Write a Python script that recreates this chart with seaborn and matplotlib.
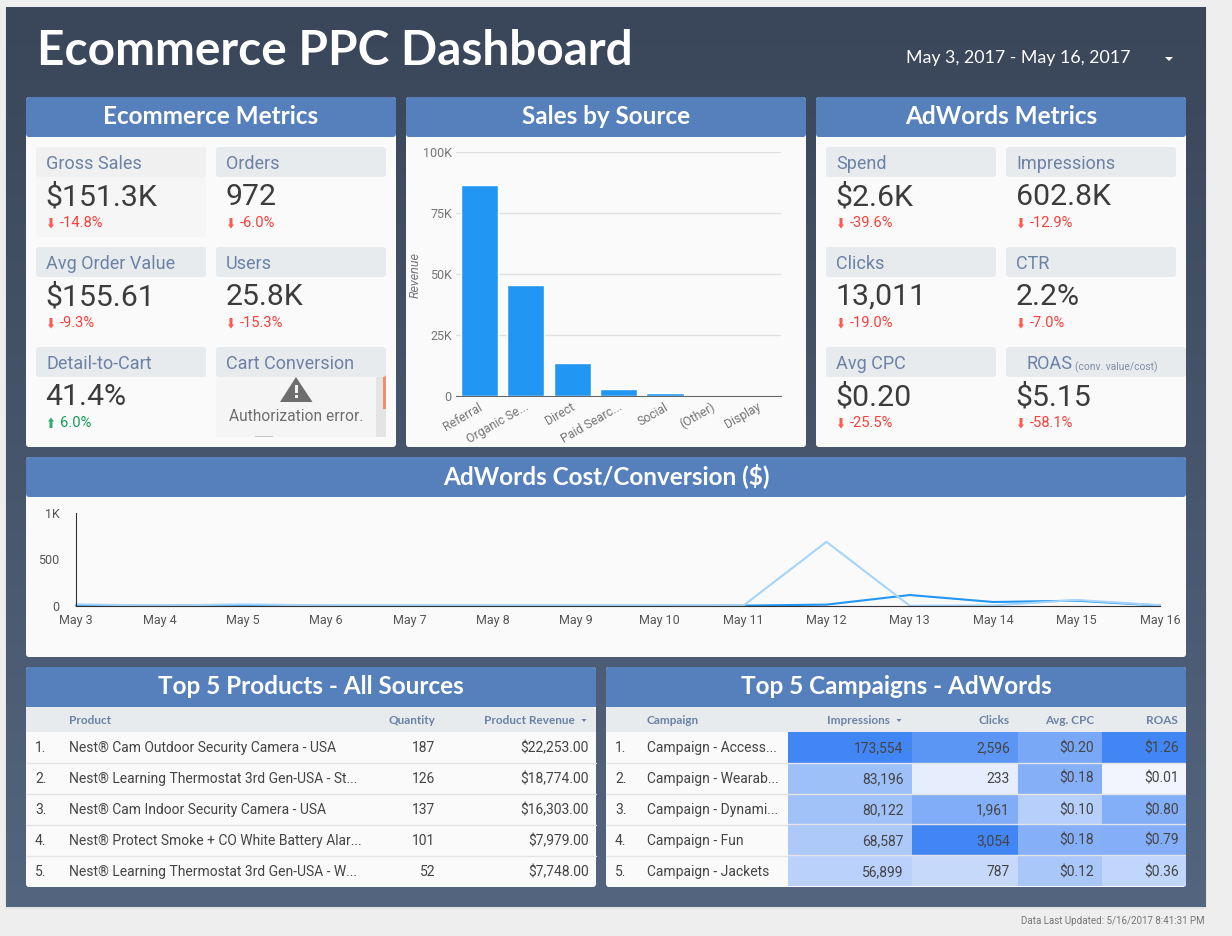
import matplotlib
matplotlib.use("Agg")
import matplotlib.pyplot as plt
from matplotlib.colors import LinearSegmentedColormap
from matplotlib.patches import FancyBboxPatch, Polygon, Rectangle
from matplotlib.transforms import ScaledTranslation
import numpy as np
import pandas as pd
import seaborn as sns

# ---------- data ----------
ecom_labels = ["Gross Sales", "Orders", "Avg Order Value", "Users", "Detail-to-Cart", "Cart Conversion"]
ecom_values = ["$151.3K", "972", "$155.61", "25.8K", "41.4%", None]
ecom_deltas = ["-14.8%", "-6.0%", "-9.3%", "-15.3%", "6.0%", None]

ads_labels = ["Spend", "Impressions", "Clicks", "CTR", "Avg CPC", "ROAS"]
ads_values = ["$2.6K", "602.8K", "13,011", "2.2%", "$0.20", "$5.15"]
ads_deltas = ["-39.6%", "-12.9%", "-19.0%", "-7.0%", "-25.5%", "-58.1%"]

source_names = ["Referral", "Organic Se...", "Direct", "Paid Searc...", "Social", "(Other)", "Display"]
source_revenue = [86800, 45600, 13600, 2800, 1300, 100, 20]
revenue_ticks = [0, 25000, 50000, 75000, 100000]
revenue_tick_labels = ["0", "25K", "50K", "75K", "100K"]

days = ["May 3", "May 4", "May 5", "May 6", "May 7", "May 8", "May 9",
        "May 10", "May 11", "May 12", "May 13", "May 14", "May 15", "May 16"]
cost_current = [6, 3, 8, 3, 3, 3, 3, 3, 4, 15, 118, 43, 57, 5]
cost_previous = [18, 4, 18, 5, 5, 5, 5, 5, 2, 690, 2, 6, 65, 8]

products = ["Nest® Cam Outdoor Security Camera - USA",
            "Nest® Learning Thermostat 3rd Gen-USA - St...",
            "Nest® Cam Indoor Security Camera - USA",
            "Nest® Protect Smoke + CO White Battery Alar...",
            "Nest® Learning Thermostat 3rd Gen-USA - W..."]
product_qty = ["187", "126", "137", "101", "52"]
product_rev = ["$22,253.00", "$18,774.00", "$16,303.00", "$7,979.00", "$7,748.00"]

campaigns = ["Campaign - Access...", "Campaign - Wearab...", "Campaign - Dynami...",
             "Campaign - Fun", "Campaign - Jackets"]
impressions = [173554, 83196, 80122, 68587, 56899]
clicks = [2596, 233, 1961, 3054, 787]
avg_cpc = [0.20, 0.18, 0.10, 0.18, 0.12]
roas = [1.26, 0.01, 0.80, 0.79, 0.36]

# ---------- style ----------
sns.set_theme(style="white")
plt.rcParams["font.family"] = ["Roboto", "DejaVu Sans"]

W, H = 1232, 936
HEADER_BLUE = "#5580BB"
CARD = "#FAFAFA"
CHIP = "#E8EBEE"
CHIP_TEXT = "#6B82A5"
DARK = "#3C3C3C"
GREY = "#6E6E6E"
RED = "#F7403A"
GREEN = "#0F9D58"
BAR_BLUE = "#2196F3"
LIGHT_BLUE = "#A6D4FA"
RULE = "#E2E4E7"

fig = plt.figure(figsize=(W / 100, H / 100), dpi=100, facecolor="#EEEEEE")


def px_axes(x0, y0, x1, y1, zorder=1):
    """axes placed by pixel box, y counted from the top"""
    return fig.add_axes([x0 / W, 1 - y1 / H, (x1 - x0) / W, (y1 - y0) / H], zorder=zorder)


def overlay(zorder):
    ax = px_axes(0, 0, W, H, zorder=zorder)
    ax.set_xlim(0, W)
    ax.set_ylim(H, 0)
    ax.axis("off")
    ax.patch.set_alpha(0)
    return ax


base = overlay(0)
top = overlay(5)


def rbox(ax, x0, y0, x1, y1, color, r=3, z=2):
    ax.add_patch(FancyBboxPatch((x0 + r, y0 + r), x1 - x0 - 2 * r, y1 - y0 - 2 * r,
                                boxstyle=f"round,pad={r},rounding_size={r}",
                                fc=color, ec="none", zorder=z))


def lato(ax, x, y, s, size, weight=700, color="white", ha="center"):
    ax.text(x, y, s, fontsize=size, fontweight=weight, color=color, ha=ha, va="center",
            family=["Lato", "DejaVu Sans"])


def panel(x0, y0, x1, y1, title):
    rbox(base, x0, y0, x1, y1, CARD)
    rbox(base, x0, y0, x1, y0 + 40, HEADER_BLUE, z=3)
    lato(base, (x0 + x1) / 2, y0 + 19, title, 17.5)


# ---------- page ----------
base.add_patch(Rectangle((5, 7), 1202, 902, fc="#E4E4E4", ec="none", zorder=0.5))
gradient = np.linspace(0, 1, 256).reshape(-1, 1)
bg_cmap = LinearSegmentedColormap.from_list("bg", ["#3A4659", "#53657F"])
base.imshow(gradient, extent=(6, 1206, 907, 7), cmap=bg_cmap, aspect="auto", zorder=1)
base.set_xlim(0, W)
base.set_ylim(H, 0)

lato(base, 37, 51, "Ecommerce PPC Dashboard", 34.4, ha="left")
lato(base, 906, 58, "May 3, 2017 - May 16, 2017", 12.8, weight=400, ha="left")
base.add_patch(Polygon([(1165, 57), (1173, 57), (1169, 61)], fc="white", ec="none", zorder=3))
base.text(1205, 921, "Data Last Updated: 5/16/2017 8:41:31 PM", fontsize=7, color="#757575",
          ha="right", va="center")


def delta_arrow(ax, x, y, color, up=False):
    s = -1 if up else 1
    pts = [(x - 1.5, y - 5 * s), (x + 1.5, y - 5 * s), (x + 1.5, y + 1.5 * s), (x + 3, y + 1.5 * s),
           (x, y + 5.5 * s), (x - 3, y + 1.5 * s), (x - 1.5, y + 1.5 * s)]
    ax.add_patch(Polygon(pts, fc=color, ec="none", alpha=0.85, zorder=4))


def metric_grid(col_x, labels, values, deltas):
    for i, (label, value, delta) in enumerate(zip(labels, values, deltas)):
        cx = col_x[i % 2]
        y0 = 147 + 100 * (i // 2)
        if label == "Gross Sales":
            rbox(base, cx, y0, cx + 170, y0 + 90, "#F6F6F6", z=3)
            rbox(base, cx, y0, cx + 170, y0 + 30, "#F0F0F0", z=3.5)
        else:
            rbox(base, cx, y0, cx + 170, y0 + 30, CHIP, z=3.5)
        base.text(cx + 10, y0 + 17, label, fontsize=13, color=CHIP_TEXT, va="center", zorder=5)
        if value is None:
            continue
        base.text(cx + 9.5, y0 + 50, value, fontsize=21.8, color=DARK, va="center", zorder=5)
        up = not delta.startswith("-")
        color = GREEN if up else RED
        delta_arrow(base, cx + 15, y0 + 76, color, up=up)
        base.text(cx + 24, y0 + 76, delta, fontsize=10.6, color=color, va="center", zorder=5)


# ---------- metric cards ----------
panel(26, 97, 396, 447, "Ecommerce Metrics")
metric_grid([36, 216], ecom_labels, ecom_values, ecom_deltas)

# the broken Cart Conversion tile
base.add_patch(Rectangle((216, 377), 170, 60, fc="#F5F5F5", ec="none", zorder=3))
base.add_patch(Rectangle((376, 377), 10, 60, fc="#E4E4E4", ec="none", zorder=3.1))
base.add_patch(Rectangle((383, 375), 3, 34, fc="#EF9067", ec="none", zorder=3.2))
base.add_patch(Polygon([(280, 402), (312.5, 402), (296, 377)], fc=GREY, ec="none", zorder=4))
base.add_patch(Rectangle((294.5, 385), 3, 8, fc="#F5F5F5", ec="none", zorder=4.1))
base.add_patch(Rectangle((294.5, 395), 3, 3, fc="#F5F5F5", ec="none", zorder=4.1))
base.text(296, 416.5, "Authorization error.", fontsize=11.2, color=GREY, ha="center", va="center", zorder=5)
base.add_patch(Rectangle((255, 435.5), 18, 1.5, fc="#C4C4C4", ec="none", zorder=4))

panel(816, 97, 1186, 447, "AdWords Metrics")
metric_grid([826, 1006], ads_labels, ads_values, ads_deltas)
# ROAS tile sits 10px to the right of the column
rbox(base, 1016, 347, 1186, 377, CHIP, z=4)
for t in base.texts:
    if t.get_text() == "ROAS":
        t.set_x(1026)
base.text(1075, 367, "(conv. value/cost)", fontsize=7.4, color="#7F8FA8", va="center", zorder=6)

# ---------- sales by source ----------
panel(406, 97, 806, 447, "Sales by Source")
ax_bar = px_axes(456, 152.3, 781, 396.3)
ax_bar.patch.set_alpha(0)
sales_df = pd.DataFrame({"source": source_names, "revenue": source_revenue})
sns.barplot(data=sales_df, x="source", y="revenue", color=BAR_BLUE, saturation=1, width=0.8, ax=ax_bar, zorder=3)
ax_bar.set_ylim(0, 100000)
ax_bar.set_xlim(-0.5, 6.5)
ax_bar.set_yticks(revenue_ticks)
ax_bar.set_yticklabels(revenue_tick_labels, fontsize=9, color="#757575")
ax_bar.grid(axis="y", color="#E0E0E0", linewidth=1, zorder=0)
ax_bar.set_axisbelow(True)
ax_bar.tick_params(axis="y", length=0, pad=3)
ax_bar.tick_params(axis="x", length=0, pad=3)
ax_bar.set_xticks(range(len(source_names)))
ax_bar.set_xticklabels(source_names, rotation=30, ha="right", rotation_mode="anchor",
                       fontsize=8.8, color="#757575")
shift = ScaledTranslation(-1 / 100, 0, fig.dpi_scale_trans)
for lab in ax_bar.get_xticklabels():
    lab.set_transform(lab.get_transform() + shift)
ax_bar.set_xlabel("")
ax_bar.set_ylabel("")
for side in ["top", "right", "left"]:
    ax_bar.spines[side].set_visible(False)
ax_bar.spines["bottom"].set_color("#666666")
ax_bar.spines["bottom"].set_linewidth(0.75)
base.text(415, 275, "Revenue", fontsize=9, style="italic", color="#757575",
          rotation=90, ha="center", va="center", zorder=5)

# ---------- cost per conversion ----------
panel(26, 457, 1186, 657, "AdWords Cost/Conversion ($)")
ax_line = px_axes(76, 513, 1160, 606)
ax_line.patch.set_alpha(0)
day_pos = list(range(len(days)))
cost_df = pd.DataFrame({
    "day": day_pos * 2,
    "cost": cost_current + cost_previous,
    "series": ["current"] * len(days) + ["previous"] * len(days),
})
sns.lineplot(data=cost_df, x="day", y="cost", hue="series", sort=False, errorbar=None,
             palette={"current": BAR_BLUE, "previous": LIGHT_BLUE}, linewidth=1.5,
             legend=False, ax=ax_line, clip_on=False)
ax_line.set_xlim(0, len(days) - 1)
ax_line.set_ylim(0, 1000)
ax_line.set_xticks(day_pos)
ax_line.set_xticklabels(days, fontsize=9, color="#555555")
ax_line.set_yticks([0, 500, 1000])
ax_line.set_yticklabels(["0", "500", "1K"], fontsize=9, color="#555555")
ax_line.tick_params(length=0)
ax_line.tick_params(axis="x", pad=5.5)
ax_line.tick_params(axis="y", pad=12)
ax_line.set_xlabel("")
ax_line.set_ylabel("")
for side in ["top", "right"]:
    ax_line.spines[side].set_visible(False)
for side in ["left", "bottom"]:
    ax_line.spines[side].set_color("#333333")
    ax_line.spines[side].set_linewidth(0.8)

# ---------- tables ----------
ROW_H = 31
ROW_Y0 = 732


def table_frame(x0, x1, title):
    panel(x0, 667, x1, 887, title)
    rbox(base, x0, 707, x1, 732, CHIP, z=3.5)
    base.add_patch(Rectangle((x0, 720), x1 - x0, 12, fc=CHIP, ec="none", zorder=3.5))
    base.add_patch(Rectangle((x0, 705), x1 - x0, 2, fc=HEADER_BLUE, ec="none", zorder=3.4))


def head(x, s, ha="left"):
    lato(top, x, 720, s, 8.5, color=CHIP_TEXT, ha=ha)


def caret(x):
    top.add_patch(Polygon([(x - 2.5, 719), (x + 2.5, 719), (x, 722)], fc=CHIP_TEXT, ec="none"))


def cell(x, row, s, ha="left"):
    top.text(x, ROW_Y0 + ROW_H * row + 16, s, fontsize=10, color="#444444", ha=ha, va="center")


table_frame(26, 596, "Top 5 Products - All Sources")
head(69, "Product")
head(435, "Quantity", ha="right")
head(575, "Product Revenue", ha="right")
caret(584)
for r in range(5):
    cell(35, r, f"{r + 1}.")
    cell(69, r, products[r])
    cell(435, r, product_qty[r], ha="right")
    cell(589, r, product_rev[r], ha="right")
    if r:
        base.plot([26, 596], [ROW_Y0 + ROW_H * r] * 2, color=RULE, lw=1, zorder=3)

table_frame(606, 1186, "Top 5 Campaigns - AdWords")
head(646.5, "Campaign")
head(890, "Impressions", ha="right")
caret(899)
head(1010, "Clicks", ha="right")
head(1094, "Avg. CPC", ha="right")
head(1178, "ROAS", ha="right")

heat_cmap = LinearSegmentedColormap.from_list("heat", ["#F3F6FE", "#4285F4"])
heat_cols = [
    (impressions, 173554, 788, 912, 903.5, [f"{v:,}" for v in impressions]),
    (clicks, 3054, 912, 1018, 1010, [f"{v:,}" for v in clicks]),
    (avg_cpc, 0.29, 1018, 1102, 1094, [f"${v:.2f}" for v in avg_cpc]),
    (roas, 1.26, 1102, 1186, 1178.5, [f"${v:.2f}" for v in roas]),
]
for values, scale, x0, x1, text_x, labels in heat_cols:
    ax_h = px_axes(x0, ROW_Y0, x1, ROW_Y0 + 5 * ROW_H - 1)
    shade = np.array(values, dtype=float).reshape(-1, 1) / scale
    sns.heatmap(shade, ax=ax_h, cmap=heat_cmap, vmin=0, vmax=1, cbar=False,
                xticklabels=False, yticklabels=False)
    for r in range(1, 5):
        ax_h.axhline(r, color=RULE, lw=1)
    for r, s in enumerate(labels):
        cell(text_x, r, s, ha="right")

for r in range(5):
    cell(615, r, f"{r + 1}.")
    cell(647, r, campaigns[r])
    if r:
        base.plot([606, 788], [ROW_Y0 + ROW_H * r] * 2, color=RULE, lw=1, zorder=3)

fig.savefig("out.png", dpi=100, facecolor=fig.get_facecolor())
